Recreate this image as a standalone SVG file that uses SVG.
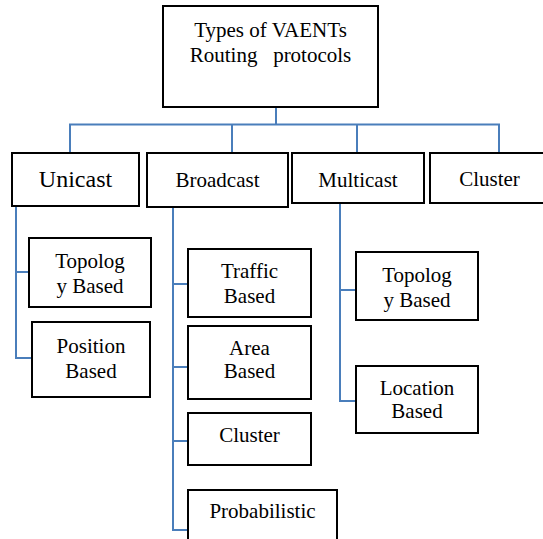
<svg xmlns="http://www.w3.org/2000/svg" width="543" height="539" viewBox="0 0 543 539">
<style>
.box{fill:#fff;stroke:#000;stroke-width:2}
.c{fill:none;stroke:#4a7ebb;stroke-width:2}
</style>
<rect width="543" height="539" fill="#fff"/>
<g id="connectors">
<path class="c" d="M276 107V124.5M70 153V124.5H499V153M232 124.5V153M357 124.5V153"/>
<path class="c" d="M16 206V358H32M16 272H29"/>
<path class="c" d="M173 207V530H188M173 284H188M173 367H188M173 441H188"/>
<path class="c" d="M340 203V401H356M340 290H356"/>
</g>
<g id="root"><rect class="box" x="163" y="6" width="215" height="101"/><text font-family="Liberation Serif" font-size="21" text-anchor="middle" x="270.5" y="37">Types of VAENTs</text><text font-family="Liberation Serif" font-size="21" text-anchor="middle" x="270.5" y="62" xml:space="preserve">Routing   protocols</text></g>
<g id="unicast"><rect class="box" x="12" y="153" width="127" height="53"/><text font-family="Liberation Serif" font-size="24" text-anchor="middle" x="75.5" y="187">Unicast</text></g>
<g id="broadcast"><rect class="box" x="147" y="153" width="141" height="54"/><text font-family="Liberation Serif" font-size="21" text-anchor="middle" x="217.5" y="187">Broadcast</text></g>
<g id="multicast"><rect class="box" x="292" y="153" width="132" height="50"/><text font-family="Liberation Serif" font-size="21" text-anchor="middle" x="358" y="187">Multicast</text></g>
<g id="cluster-top"><rect class="box" x="430" y="153" width="120" height="50"/><text font-family="Liberation Serif" font-size="21" text-anchor="middle" x="489.5" y="186">Cluster</text></g>
<g id="u-topology"><rect class="box" x="29" y="238" width="122" height="69"/><text font-family="Liberation Serif" font-size="21" text-anchor="middle" x="90" y="268">Topolog</text><text font-family="Liberation Serif" font-size="21" text-anchor="middle" x="90" y="293">y Based</text></g>
<g id="u-position"><rect class="box" x="32" y="322" width="118" height="75"/><text font-family="Liberation Serif" font-size="21" text-anchor="middle" x="91" y="353">Position</text><text font-family="Liberation Serif" font-size="21" text-anchor="middle" x="91" y="378">Based</text></g>
<g id="b-traffic"><rect class="box" x="188" y="249" width="123" height="68"/><text font-family="Liberation Serif" font-size="21" text-anchor="middle" x="249.5" y="278">Traffic</text><text font-family="Liberation Serif" font-size="21" text-anchor="middle" x="249.5" y="303">Based</text></g>
<g id="b-area"><rect class="box" x="188" y="326" width="123" height="73"/><text font-family="Liberation Serif" font-size="21" text-anchor="middle" x="249.5" y="355">Area</text><text font-family="Liberation Serif" font-size="21" text-anchor="middle" x="249.5" y="378">Based</text></g>
<g id="b-cluster"><rect class="box" x="188" y="413" width="123" height="52"/><text font-family="Liberation Serif" font-size="21" text-anchor="middle" x="249.5" y="442">Cluster</text></g>
<g id="b-probabilistic"><rect class="box" x="188" y="490" width="149" height="60"/><text font-family="Liberation Serif" font-size="21" text-anchor="middle" x="262.5" y="518">Probabilistic</text></g>
<g id="m-topology"><rect class="box" x="356" y="252" width="122" height="68"/><text font-family="Liberation Serif" font-size="21" text-anchor="middle" x="417" y="282">Topolog</text><text font-family="Liberation Serif" font-size="21" text-anchor="middle" x="417" y="307">y Based</text></g>
<g id="m-location"><rect class="box" x="356" y="366" width="122" height="67"/><text font-family="Liberation Serif" font-size="21" text-anchor="middle" x="417" y="395">Location</text><text font-family="Liberation Serif" font-size="21" text-anchor="middle" x="417" y="418">Based</text></g>
</svg>
